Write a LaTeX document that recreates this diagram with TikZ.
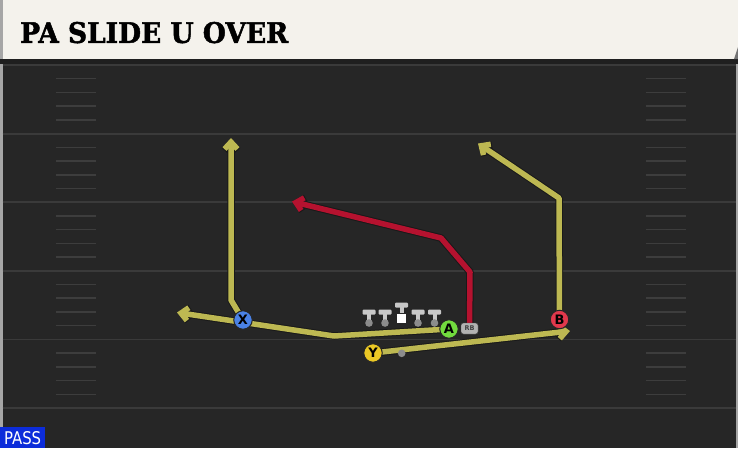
\documentclass[tikz,border=0pt]{standalone}
\usepackage{fontspec}
\setmainfont{DejaVu Sans}
\newfontfamily\titlefont{DejaVu Serif}[FakeBold=1.8]
\newfontfamily\passfont{DejaVu Sans Condensed}
\usetikzlibrary{arrows.meta}
\definecolor{fieldc}{HTML}{262626}
\definecolor{yardc}{HTML}{3A3A3A}
\definecolor{hashc}{HTML}{3D3D3D}
\definecolor{titlec}{HTML}{F4F2EC}
\definecolor{routey}{HTML}{BDB852}
\definecolor{router}{HTML}{B5122F}
\definecolor{plx}{HTML}{4A82E6}
\definecolor{pla}{HTML}{72DB3E}
\definecolor{plb}{HTML}{E2384C}
\definecolor{ply}{HTML}{EBC825}
\definecolor{linec}{HTML}{C8C8C8}
\definecolor{dotc}{HTML}{8C8C8C}
\definecolor{passc}{HTML}{0C2CDA}
\begin{document}
\begin{tikzpicture}[x=1pt,y=-1pt,
  yard/.style={draw=yardc,line width=1.8pt},
  hashm/.style={draw=hashc,line width=1.5pt},
  outl/.style={draw=black!90,line width=7.5pt,line join=round,-{Straight Barb[length=7pt,width=13pt]}},
  routeyel/.style={draw=routey,line width=5.5pt,line join=round,-{Straight Barb[length=7pt,width=13pt]}},
  routered/.style={draw=router,line width=5.5pt,line join=round,-{Straight Barb[length=7pt,width=13pt]}},
  player/.style={circle,draw=black!85,line width=1pt,minimum size=18.5pt,inner sep=0pt,font=\bfseries\fontsize{13}{13}\selectfont,text=black},
  rbnode/.style={draw=black!70,fill=black!30!white,rounded corners=2.5pt,minimum width=17pt,minimum height=11pt,inner sep=0pt,font=\bfseries\fontsize{6.5}{6.5}\selectfont,text=black!75},
  lmbar/.style={fill=linec,rounded corners=1pt},
  lmdot/.style={fill=dotc}
]
\useasboundingbox (0,0) rectangle (738,448);
% field
\fill[fieldc] (0,0) rectangle (738,448);
\fill[black!35] (0,59) rectangle (2.5,448);
\fill[black!35] (735.5,59) rectangle (738,448);
\fill[black!88] (0,58) rectangle (738,64);
% yard lines
\foreach \yy in {65,133.6,202.2,270.8,339.4,408} {
  \draw[yard] (2.5,\yy) -- (735.5,\yy);
}
% hash marks
\foreach \yb in {65,133.6,202.2,270.8,339.4} {
  \foreach \k in {1,2,3,4} {
    \draw[hashm] (56,\yb+13.72*\k) -- (96,\yb+13.72*\k);
    \draw[hashm] (646,\yb+13.72*\k) -- (686,\yb+13.72*\k);
  }
}
% title bar
\fill[titlec] (0,0) rectangle (738,59);
\fill[black!35] (0,0) rectangle (3,59);
\fill[black!55] (738,47) -- (738,59) -- (734,59) -- cycle;
\node[anchor=south west,inner sep=0pt] (title) at (20,43.5)
  {\resizebox{268pt}{21pt}{\titlefont\bfseries PA SLIDE U OVER}};
% pass label
\fill[passc] (0,427) rectangle (45,448);
\node[anchor=south west,inner sep=0pt,text=white] (pass) at (4,445)
  {\resizebox{37pt}{13pt}{\passfont PASS}};
% coordinates
\coordinate (xup1) at (231,300);
\coordinate (xup2) at (231,138);
\coordinate (ak) at (334,336);
\coordinate (aend) at (177,312.5);
\coordinate (rb1) at (470,272);
\coordinate (rb2) at (441,238);
\coordinate (rbend) at (292,201.5);
\coordinate (b1) at (559,198);
\coordinate (bend) at (478,143.5);
\coordinate (yend) at (570,331);
% player positions
\coordinate (Xp) at (243,320);
\coordinate (Ap) at (449,329);
\coordinate (Bp) at (559.5,319.5);
\coordinate (Yp) at (373,353);
\coordinate (RBp) at (469.5,328.5);
% routes outlines
\draw[outl] (Xp) -- (xup1) -- (xup2);
\draw[outl] (Ap) -- (ak) -- (aend);
\draw[outl] (Bp) -- (b1) -- (bend);
\draw[outl] (Yp) -- (yend);
\draw[outl] (RBp) -- (rb1) -- (rb2) -- (rbend);
% routes
\draw[routeyel] (Xp) -- (xup1) -- (xup2);
\draw[routeyel] (Ap) -- (ak) -- (aend);
\draw[routeyel] (Bp) -- (b1) -- (bend);
\draw[routeyel] (Yp) -- (yend);
\draw[routered] (RBp) -- (rb1) -- (rb2) -- (rbend);
% linemen
\foreach \lx in {369,385,418,434.5} {
  \fill[lmbar] (\lx-6.5,309.5) rectangle (\lx+6.5,314.5);
  \fill[linec] (\lx-2,314) rectangle (\lx+2,321);
  \fill[lmdot] (\lx,323) circle (3.8);
}
\fill[lmbar] (395,302.5) rectangle (408,307.5);
\fill[linec] (399.5,307) rectangle (403.5,313);
\fill[white] (397,313.5) rectangle (406,322.5);
% ball
\fill[dotc] (401.7,353.3) circle (3.8);
% players
\node[player,fill=plx] (X) at (Xp) {X};
\node[player,fill=pla] (A) at (Ap) {A};
\node[player,fill=plb] (B) at (Bp) {B};
\node[player,fill=ply] (Y) at (Yp) {Y};
\node[rbnode] (RB) at (RBp) {RB};
\end{tikzpicture}
\end{document}
